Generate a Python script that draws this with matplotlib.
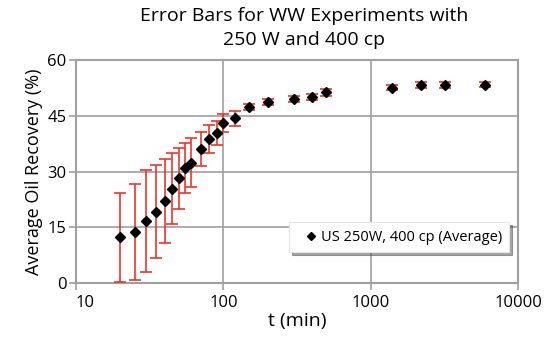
import numpy as np
import matplotlib.pyplot as plt
from matplotlib.lines import Line2D

plt.rcParams['font.family'] = ['Open Sans', 'DejaVu Sans']

# Data
t_min = [20, 25, 30, 35, 40, 45, 50, 55, 60, 70, 80, 90, 100, 120, 150,
         200, 300, 400, 500, 1400, 2200, 3200, 6000]
recovery = [12.3, 13.8, 16.8, 19.2, 22.1, 25.4, 28.2, 30.9, 32.4, 36.1, 38.7,
            40.3, 43.0, 44.3, 47.3, 48.6, 49.5, 50.0, 51.3, 52.5, 53.3, 53.3, 53.4]
err = [12.0, 12.9, 13.7, 12.6, 11.2, 9.5, 8.2, 6.8, 6.6, 4.5, 3.7,
       3.2, 2.5, 2.0, 0.8, 0.8, 0.8, 0.8, 1.0, 0.7, 0.7, 0.7, 0.7]
y_ticks = [0, 15, 30, 45, 60]
x_ticks = [10, 100, 1000, 10000]
x_tick_labels = ['10', '100', '1000', '10000']

grid_col = '#a0a0a0'
red = '#ec3529'

fig = plt.figure(figsize=(5.48, 3.41), dpi=100)
ax = fig.add_axes([0.1387, 0.170, 0.8066, 0.654])

ax.errorbar(t_min, recovery, yerr=err, fmt='D', color='black', markersize=5.5,
            ecolor=red, elinewidth=1.2, capsize=4, capthick=1.2, zorder=3)

ax.set_xscale('log')
ax.set_xlim(10, 10000)
ax.set_ylim(0, 60)
ax.set_xticks(x_ticks)
ax.set_xticklabels(x_tick_labels)
ax.minorticks_off()
ax.set_yticks(y_ticks)
ax.tick_params(axis='both', labelsize=12, color=grid_col, length=5, width=1.2)
ax.tick_params(axis='y', pad=2)
ax.get_xticklabels()[0].set_ha('left')

ax.grid(True, color=grid_col, linewidth=1.2)
ax.set_axisbelow(True)
for s in ax.spines.values():
    s.set_color(grid_col)
    s.set_linewidth(1.5)

ax.set_xlabel('t (min)', fontsize=14, labelpad=1)
ax.set_ylabel('Average Oil Recovery (%)', fontsize=13, labelpad=3)

fig.text(0.555, 0.98, 'Error Bars for WW Experiments with\n250 W and 400 cp',
         ha='center', va='top', fontsize=14, linespacing=1.45)

# Legend with marker only
handle = Line2D([], [], marker='D', color='black', linestyle='none', markersize=4.5)
leg = ax.legend([handle], ['US 250W, 400 cp (Average)'], loc='lower right',
                bbox_to_anchor=(0.98, 0.139), fontsize=10.5, frameon=True,
                fancybox=False, shadow=True, borderpad=0.5, handletextpad=-0.35,
                handlelength=2.0, borderaxespad=0)
leg.get_frame().set_edgecolor('#e6e6e6')
leg.get_frame().set_linewidth(0.8)

plt.savefig('out.png', dpi=100)
